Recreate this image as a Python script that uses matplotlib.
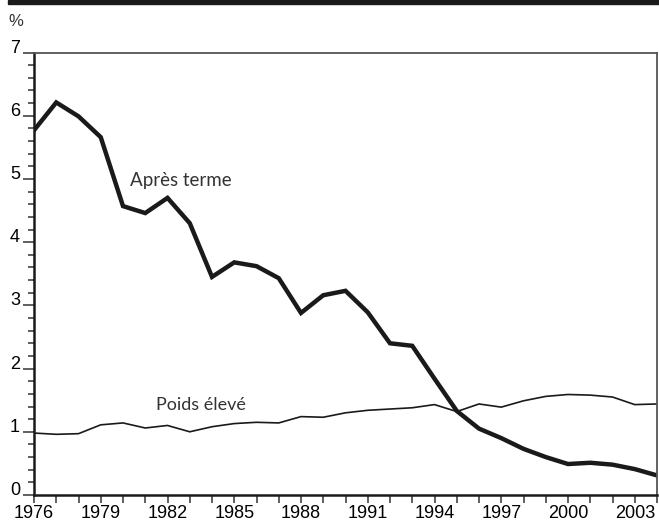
import matplotlib
matplotlib.use("Agg")
import matplotlib.pyplot as plt
from matplotlib.patches import Rectangle
from matplotlib.ticker import MultipleLocator

plt.rcParams['font.family'] = ['Liberation Sans', 'DejaVu Sans']

years = list(range(1976, 2005))
apres_terme = [5.77, 6.21, 5.99, 5.66, 4.57, 4.46, 4.70, 4.30, 3.45, 3.68,
               3.62, 3.43, 2.88, 3.16, 3.23, 2.89, 2.40, 2.36, 1.84, 1.33,
               1.05, 0.90, 0.73, 0.60, 0.49, 0.51, 0.48, 0.41, 0.31]
poids_eleve = [0.98, 0.96, 0.97, 1.11, 1.14, 1.06, 1.10, 1.00, 1.08, 1.13,
               1.15, 1.14, 1.24, 1.23, 1.30, 1.34, 1.36, 1.38, 1.43, 1.32,
               1.44, 1.39, 1.49, 1.56, 1.59, 1.58, 1.55, 1.43, 1.44]
xtick_years = list(range(1976, 2004, 3))
yticks = list(range(0, 8))

W, H = 659, 522
fig = plt.figure(figsize=(W / 100, H / 100), dpi=100)
ax = fig.add_axes([34 / W, 1 - 495 / H, (657 - 34) / W, (495 - 52.5) / H])

ax.plot(years, poids_eleve, color='#1a1a1a', lw=1.2, solid_joinstyle='miter')
ax.plot(years, apres_terme, color='#1a1a1a', lw=3.2, solid_joinstyle='miter')

ax.set_xlim(1976, 2004)
ax.set_ylim(0, 7)

ax.set_xticks(xtick_years)
ax.set_xticklabels([str(y) for y in xtick_years])
ax.xaxis.set_minor_locator(MultipleLocator(1))
ax.set_yticks(yticks)
ax.set_yticklabels([str(v) for v in yticks])
ax.yaxis.set_minor_locator(MultipleLocator(0.2))

ax.tick_params(axis='x', which='both', direction='out', length=6, width=1.1,
               color='#333333', labelsize=13, pad=1.5)
ax.tick_params(axis='y', which='major', direction='out', length=8, width=1.1,
               color='#333333', labelsize=13, pad=2)
ax.tick_params(axis='y', which='minor', direction='out', length=4, width=1.1,
               color='#333333')
for lab in ax.get_yticklabels():
    lab.set_va('baseline')

for side in ('left', 'bottom'):
    ax.spines[side].set_linewidth(1.8)
    ax.spines[side].set_color('#1a1a1a')
for side in ('top', 'right'):
    ax.spines[side].set_linewidth(1.3)
    ax.spines[side].set_color('#555555')

ax.text(1980.3, 4.97, 'Après terme', fontsize=13.5, color='#333333',
        family=['Lato', 'DejaVu Sans'], va='center', ha='left')
ax.text(1981.5, 1.42, 'Poids élevé', fontsize=13, color='#333333',
        family=['Lato', 'DejaVu Sans'], va='center', ha='left')

fig.text(8 / W, 1 - 21.5 / H, '%', fontsize=12, color='#333333',
         va='center', ha='left')
fig.patches.append(Rectangle((8 / W, 1 - 4 / H), 1 - 8 / W, 4 / H,
                             transform=fig.transFigure, color='#1a1a1a',
                             zorder=5))

fig.savefig('out.png', dpi=100)
